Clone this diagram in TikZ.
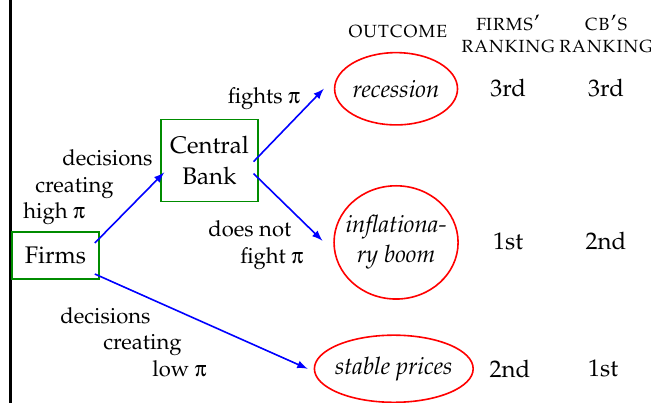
\documentclass[tikz,border=0pt]{standalone}
\usepackage[T1]{fontenc}
\usepackage{mathpazo}
\usepackage[Symbol]{upgreek}
\usepackage{xcolor}
\usepackage{tikz}
\usetikzlibrary{calc}
\usetikzlibrary{arrows}
\usetikzlibrary{shapes.geometric}

\begin{document}
\begin{tikzpicture}
    \tikzstyle{every node}=[inner sep=0pt,font=\fontsize{11}{13.3}\selectfont]
    \tikzstyle{agent}=[draw=green!55!black,thick,align=center,font=\large]
    \tikzstyle{outcome}=[draw=red,thick,ellipse,inner xsep=-3pt,align=center,font=\large\itshape]
    \tikzstyle{rank}=[font=\large]
    \tikzstyle{head}=[align=center,font=\fontsize{11}{11}\selectfont\scshape]
    \tikzstyle{choice}=[draw=blue,thick,-latex]

   \useasboundingbox (0,0) rectangle (11.44,-7.08);
   \draw[line width=1.6pt] (0.185,0) -- (0.185,-7.08);

   \node[agent,minimum height=0.83cm,minimum width=1.53cm] (firms) at (0.975,-4.49) {Firms};
   \node[agent,minimum height=1.44cm,minimum width=1.70cm] (cb) at (3.68,-2.82) {Central\\[1.5pt]Bank};

   \node[outcome,minimum height=1.27cm,minimum width=2.16cm] (rec) at (6.96,-1.56) {recession};
   \node[outcome,inner xsep=-4.5pt,minimum height=1.99cm,minimum width=2.18cm] (infl) at (6.96,-4.26) {inflationa-\\[1pt]ry boom};
   \node[outcome,minimum height=1.18cm,minimum width=2.79cm] (stable) at (6.92,-6.48) {stable prices};

   % column heads
   \node[head] (hout) at (6.99,-0.56) {outcome};
   \node[head] (hfirms) at (8.93,-0.60) {firms'\\ranking};
   \node[head] (hcb) at (10.65,-0.60) {cb's\\ranking};

   % rankings
   \node[rank] (f1) at (8.93,-1.55) {3rd};
   \node[rank] (c1) at (10.65,-1.55) {3rd};
   \node[rank] (f2) at (8.93,-4.24) {1st};
   \node[rank] (c2) at (10.65,-4.24) {2nd};
   \node[rank] (f3) at (8.96,-6.48) {2nd};
   \node[rank] (c3) at (10.60,-6.48) {1st};

   \def\aoff{0.088};

   \draw[choice] ($(firms.east)+(-\aoff,0.22)$) -- ($(cb.west)+(0.07,-0.21)$);
   \draw[choice] ($(cb.east)+(-\aoff,-0.02)$) -- ($(rec.west)-(0.176,0)$);
   \draw[choice] ($(cb.east)+(-\aoff,-0.23)$) -- ($(infl.west)-(0.19,-0.03)$);
   \draw[choice] ($(firms.east)+(-\aoff,-0.325)$) -- ($(stable.west)-(0.105,0)$);

   % labels on the choices
   \node[anchor=west,align=left] (lhigh) at (0.404,-3.29)
     {\hspace*{19.5pt}decisions\\\hspace*{6pt}creating\\high $\uppi$};
   \node (lfight) at (4.64,-1.74) {fights $\uppi$};
   \node[anchor=west,align=left] (lnot) at (3.655,-4.305)
     {does not\\\hspace*{16pt}fight $\uppi$};
   \node[anchor=west,align=left] (llow) at (1.054,-6.01)
     {decisions\\\hspace*{21.5pt}creating\\\hspace*{46pt}low $\uppi$};

  \end{tikzpicture}
\end{document}
